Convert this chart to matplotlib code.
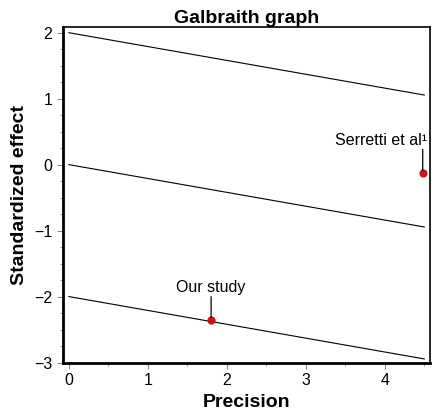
import numpy as np
import matplotlib.pyplot as plt
from matplotlib.ticker import MultipleLocator

plt.rcParams['font.family'] = ['Liberation Sans', 'DejaVu Sans']

# Galbraith regression line and +/-2 bounds
slope = -0.21
offsets = [2, 0, -2]
line_x = [0, 4.5]

# studies: precision, standardized effect
study_names = ['Our study', 'Serretti et al¹']
precision = [1.8, 4.48]
std_effect = [-2.36, -0.13]

fig, ax = plt.subplots(figsize=(4.32, 4.12), dpi=100)

for off in offsets:
    xs = np.array(line_x)
    ax.plot(xs, off + slope * xs, color='black', lw=0.8)

ax.scatter(precision, std_effect, color='#c8141c', s=24, zorder=3)

# leader lines (vertical) and labels
for i, name in enumerate(study_names):
    ax.annotate('', xy=(precision[i], std_effect[i]), xytext=(precision[i], std_effect[i] + 0.36),
                arrowprops=dict(arrowstyle='-', color='black', lw=0.9, shrinkA=0, shrinkB=2))
ax.text(precision[0], std_effect[0] + 0.38, study_names[0], ha='center', va='bottom', fontsize=11.5)
ax.text(precision[1] + 0.06, std_effect[1] + 0.38, study_names[1], ha='right', va='bottom', fontsize=11.5)

ax.set_xlim(-0.08, 4.57)
ax.set_ylim(-3, 2.09)
ax.xaxis.set_major_locator(MultipleLocator(1))
ax.xaxis.set_minor_locator(MultipleLocator(0.5))
ax.yaxis.set_major_locator(MultipleLocator(1))
ax.yaxis.set_minor_locator(MultipleLocator(0.25))
ax.tick_params(which='both', direction='out', color='#888888', labelsize=11.5)
ax.tick_params(which='major', length=4)
ax.tick_params(which='minor', length=2)
for s in ax.spines.values():
    s.set_linewidth(1.2)
ax.spines['left'].set_linewidth(2)
ax.spines['bottom'].set_linewidth(2)

ax.set_title('Galbraith graph', fontsize=14, fontweight='bold', pad=3)
ax.set_xlabel('Precision', fontsize=14, fontweight='bold')
ax.set_ylabel('Standardized effect', fontsize=14, fontweight='bold')

fig.subplots_adjust(left=0.145, right=0.995, top=0.935, bottom=0.12)
fig.savefig('out.png')
